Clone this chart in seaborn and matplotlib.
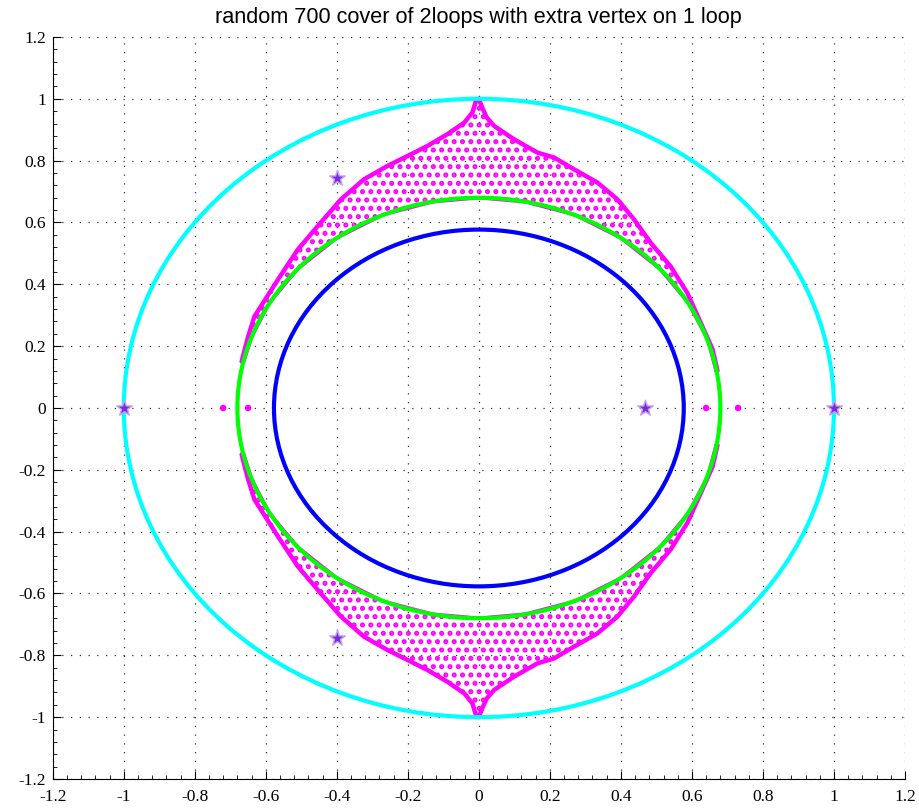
import matplotlib
matplotlib.use("Agg")
import matplotlib.pyplot as plt
import seaborn as sns
from matplotlib.patches import Circle
from matplotlib.ticker import AutoMinorLocator

# --- data ---
circle_radii = [1.0, 0.577, 0.68]
circle_colors = ["#00ffff", "#0000ff", "#00ff00"]

star_x = [-1.0, 1.0, 0.467, -0.40, -0.40]
star_y = [0.0, 0.0, 0.0, 0.745, -0.745]

axis_dot_x = [-0.72, -0.65, 0.64, 0.73]
axis_dot_y = [0.0, 0.0, 0.0, 0.0]

# outline of the dense eigenvalue cloud (upper lobe): outer edge left->right
upper_outer_x = [-0.668, -0.650, -0.632, -0.566, -0.510, -0.454, -0.388, -0.323,
                 -0.257, -0.201, -0.144, -0.088, -0.041, -0.018, -0.008, 0.0,
                 0.010, 0.022, 0.043, 0.099, 0.165, 0.212, 0.268, 0.334,
                 0.390, 0.437, 0.484, 0.540, 0.587, 0.625, 0.658, 0.672]
upper_outer_y = [0.15, 0.23, 0.296, 0.415, 0.512, 0.588, 0.675, 0.740,
                 0.783, 0.815, 0.848, 0.886, 0.923, 0.956, 0.994, 1.0,
                 0.97, 0.94, 0.912, 0.869, 0.826, 0.810, 0.772, 0.729,
                 0.675, 0.610, 0.534, 0.458, 0.372, 0.275, 0.19, 0.12]
# inner edge (hugs the green circle) right->left
upper_inner_x = [0.668, 0.645, 0.59, 0.51, 0.40, 0.27, 0.13, 0.0,
                 -0.13, -0.27, -0.40, -0.51, -0.59, -0.640, -0.662]
upper_inner_y = [0.12, 0.22, 0.34, 0.45, 0.55, 0.625, 0.667, 0.68,
                 0.667, 0.625, 0.55, 0.45, 0.34, 0.23, 0.15]

# lower lobe (conjugate values)
lower_outer_x = upper_outer_x
lower_outer_y = [-0.15, -0.23, -0.296, -0.415, -0.512, -0.588, -0.675, -0.740,
                 -0.783, -0.815, -0.848, -0.886, -0.923, -0.956, -0.994, -1.0,
                 -0.97, -0.94, -0.912, -0.869, -0.826, -0.810, -0.772, -0.729,
                 -0.675, -0.610, -0.534, -0.458, -0.372, -0.275, -0.19, -0.12]
lower_inner_x = upper_inner_x
lower_inner_y = [-0.12, -0.22, -0.34, -0.45, -0.55, -0.625, -0.667, -0.68,
                 -0.667, -0.625, -0.55, -0.45, -0.34, -0.23, -0.15]

ticks = [-1.2, -1.0, -0.8, -0.6, -0.4, -0.2, 0.0, 0.2, 0.4, 0.6, 0.8, 1.0, 1.2]
tick_labels = ["-1.2", "-1", "-0.8", "-0.6", "-0.4", "-0.2", "0",
               "0.2", "0.4", "0.6", "0.8", "1", "1.2"]

MAGENTA = "#ff00ff"

sns.set_style("white")
plt.rcParams["hatch.linewidth"] = 2.4

fig = plt.figure(figsize=(9.2, 8.09), dpi=100)
ax = fig.add_axes([0.0573, 0.0371, 0.9264, 0.9172])

# --- eigenvalue cloud ---
for ox, oy, ix, iy in [(upper_outer_x, upper_outer_y, upper_inner_x, upper_inner_y),
                       (lower_outer_x, lower_outer_y, lower_inner_x, lower_inner_y)]:
    ax.fill(ox + ix, oy + iy, facecolor="none", edgecolor=MAGENTA,
            linewidth=0, hatch="..", zorder=2)
    sns.lineplot(x=ox, y=oy, sort=False, color=MAGENTA, linewidth=3.2,
                 ax=ax, zorder=2)
    sns.lineplot(x=ix, y=iy, sort=False, color=MAGENTA, linewidth=2.5,
                 ax=ax, zorder=2)

sns.scatterplot(x=axis_dot_x, y=axis_dot_y, color=MAGENTA, s=22,
                edgecolor="none", ax=ax, zorder=3)

# --- circles ---
for r, c in zip(circle_radii, circle_colors):
    ax.add_patch(Circle((0, 0), r, fill=False, edgecolor=c, linewidth=3,
                        zorder=4))

# --- stars ---
sns.scatterplot(x=star_x, y=star_y, marker="*", s=140, color="#7a2ad8",
                edgecolor="#c4a0f5", linewidth=1.0, ax=ax, zorder=5)

ax.set_xlim(-1.2, 1.2)
ax.set_ylim(-1.2, 1.2)
ax.set_xticks(ticks)
ax.set_xticklabels(tick_labels)
ax.set_yticks(ticks)
ax.set_yticklabels(tick_labels)
ax.xaxis.set_minor_locator(AutoMinorLocator(5))
ax.yaxis.set_minor_locator(AutoMinorLocator(5))
ax.tick_params(which="major", direction="in", length=6, width=0.8,
               color="black", labelcolor="black", labelsize=12.5)
ax.tick_params(axis="x", which="major", pad=7)
ax.tick_params(axis="y", which="major", pad=5)
ax.tick_params(which="minor", direction="in", length=3, width=0.6,
               color="black")
ax.tick_params(bottom=True, left=True, top=False, right=False)
ax.tick_params(which="minor", bottom=True, left=True, top=False, right=False)
for lab in ax.get_xticklabels() + ax.get_yticklabels():
    lab.set_family("Liberation Serif")

ax.grid(True, which="major", linestyle=(0, (1, 6)), color="#333333",
        linewidth=0.9)
ax.set_axisbelow(True)
ax.spines["top"].set_visible(False)
ax.spines["right"].set_visible(False)
ax.spines["left"].set_color("black")
ax.spines["bottom"].set_color("black")
ax.spines["left"].set_linewidth(0.8)
ax.spines["bottom"].set_linewidth(0.8)

ax.set_title("random 700 cover of 2loops with extra vertex on 1 loop",
             fontsize=15.6, family="Liberation Sans", color="black", pad=10)

fig.savefig("out.png", dpi=100)
